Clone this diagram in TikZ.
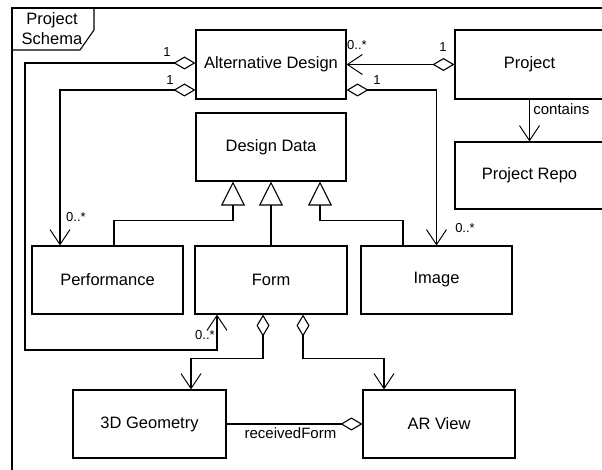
\documentclass[tikz,border=0pt]{standalone}
\usepackage{fontspec}
\setmainfont{Liberation Sans}
\usetikzlibrary{arrows.meta}

\begin{document}
\begin{tikzpicture}[line join=miter,x=1pt,y=-1pt,line width=1.1pt,
  font=\fontsize{16.5}{19}\selectfont,
  umlbox/.style={draw,minimum height=68pt,inner sep=0pt},
  agg/.style={arrows={Diamond[open,length=22pt,width=13pt]-Straight Barb[length=15pt,width=20pt,line width=1pt]}},
  nav/.style={arrows={-Straight Barb[length=15pt,width=20pt,line width=1pt]}},
  gen/.style={arrows={-Triangle[open,length=24pt,width=24pt]}},
  mult/.style={font=\fontsize{13}{15}\selectfont,inner sep=0pt}]
\clip (0,0) rectangle (602,470);
\useasboundingbox (0,0) rectangle (602,470);
\draw (12,470) -- (12,8) -- (602,8);
\draw (12,50) -- (80,50) -- (94,30) -- (94,8);
\node[align=center,inner sep=0pt,font=\fontsize{16.5}{20}\selectfont] (title) at (52,29) {Project\\Schema};
\node[umlbox,minimum width=150pt,minimum height=69pt] (alt) at (271,64.5) {Alternative Design};
\node[umlbox,minimum width=149pt,minimum height=69pt] (proj) at (529.5,64.5) {Project};
\node[umlbox,minimum width=149pt,minimum height=67pt] (repo) at (529.5,175.5) {Project Repo};
\node[umlbox,minimum width=150pt] (data) at (271,147) {Design Data};
\node[umlbox,minimum width=151pt] (perf) at (107.5,280) {Performance};
\node[umlbox,minimum width=152pt] (form) at (271,280) {Form};
\node[umlbox,minimum width=151pt] (image) at (436.5,280) {Image};
\node[umlbox,minimum width=153pt] (geo) at (149.5,424) {3D Geometry};
\node[umlbox,minimum width=152pt] (arview) at (439,424) {AR View};
\coordinate (loop) at (25,350);
\draw[agg] ([yshift=1.5pt]alt.west) -| (loop) -| ([xshift=-54pt]form.south);
\draw[agg] ([yshift=-25.5pt]alt.west) -| ([xshift=-47.5pt]perf.north);
\draw[agg] (proj.west) -- (alt.east);
\draw[agg] ([yshift=-25.5pt]alt.east) -| (image.north);
\draw[nav] (proj.south) -- (repo.north) node[pos=0.22,right,font=\fontsize{15}{17}\selectfont] {contains};
\draw[gen] ([xshift=6.5pt]perf.north) -- ++(0,-25) -| ([xshift=-38pt]data.south);
\draw[gen] (form.north) -- (data.south);
\draw[gen] ([xshift=-33.5pt]image.north) -- ++(0,-25) -| ([xshift=49pt]data.south);
\draw[agg] ([xshift=-8pt]form.south) -- ++(0,44) -| ([xshift=41.5pt]geo.north);
\draw[agg] ([xshift=32pt]form.south) -- ++(0,44) -| ([xshift=-55pt]arview.north);
\draw[arrows={-Diamond[open,length=22pt,width=13pt]}] (geo.east) -- (arview.west)
  node[pos=0.47,below,font=\fontsize{15}{17}\selectfont] {receivedForm};
\draw (167,52) node[mult] {1};
\draw (170,80) node[mult] {1};
\draw (357,45) node[mult] {0..*};
\draw (377,80) node[mult] {1};
\draw (443,47) node[mult] {1};
\draw (76,217) node[mult] {0..*};
\draw (465,228) node[mult] {0..*};
\draw (205,335) node[mult] {0..*};
\end{tikzpicture}
\end{document}
